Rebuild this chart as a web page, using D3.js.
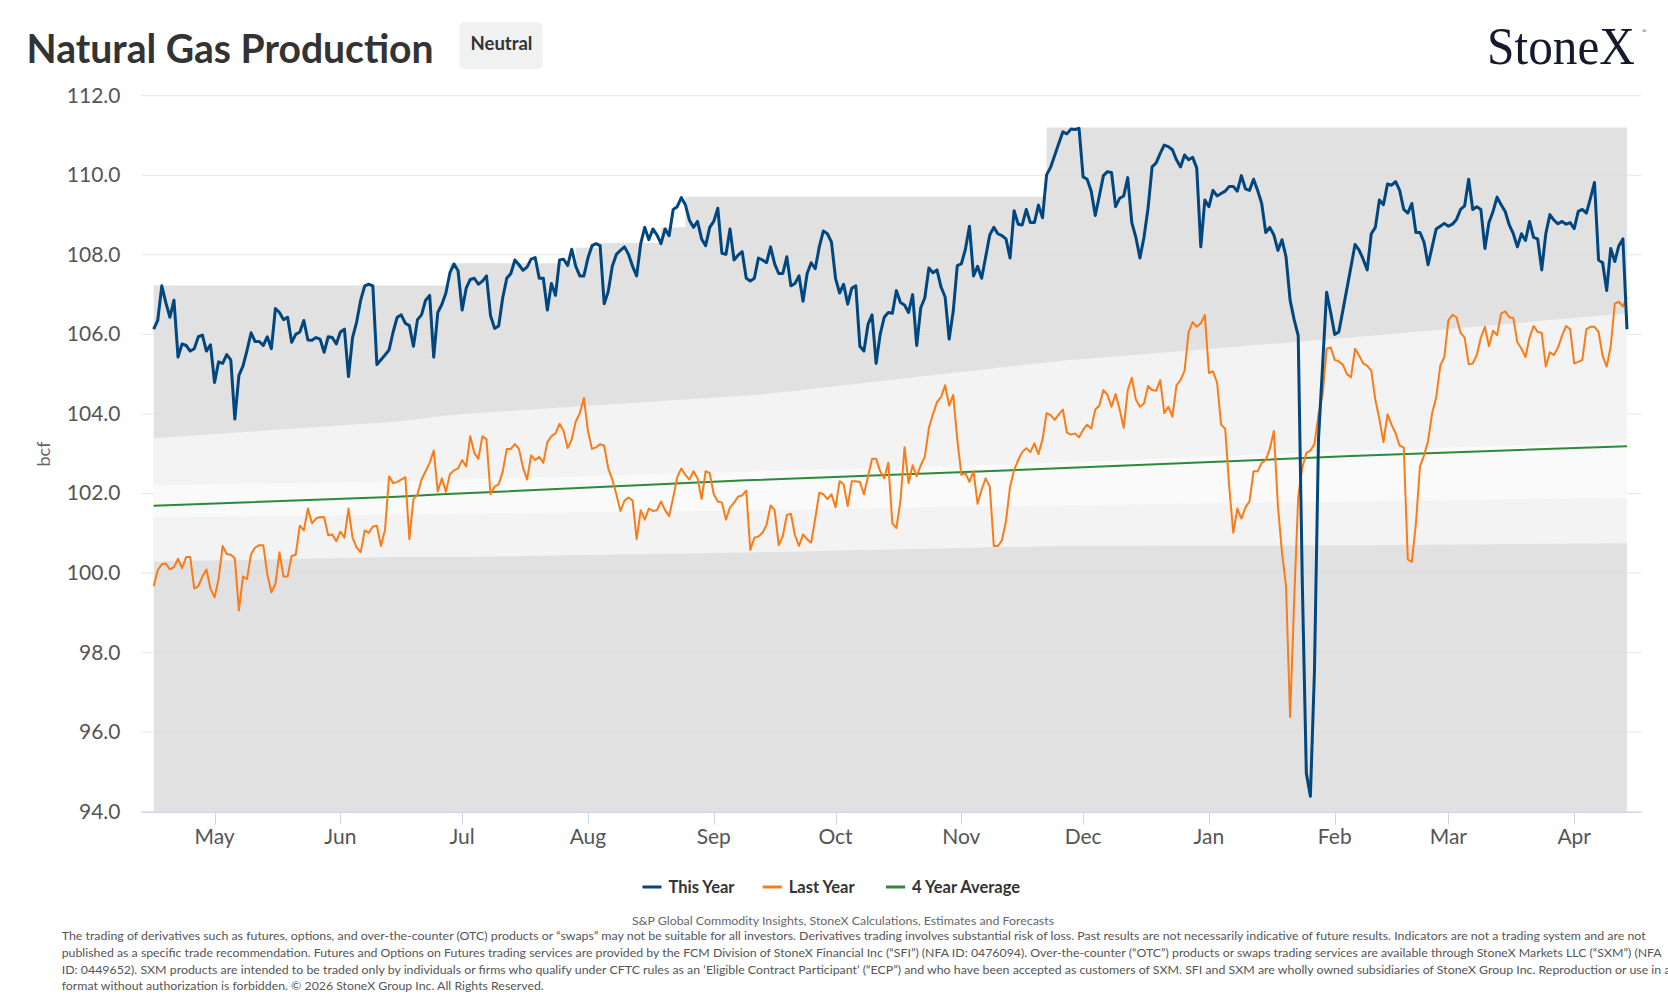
<!DOCTYPE html>
<html>
<head>
<meta charset="utf-8">
<title>Natural Gas Production</title>
<script src="https://cdn.jsdelivr.net/npm/d3@7"></script>
<style>
    body { margin: 0; background: #ffffff; }
    svg { display: block; font-family: Lato, 'Open Sans', sans-serif; }
</style>
</head>
<body>
<svg id="vis_svg"></svg>
<script>
// Global Variables
let scales = {};
let config = {
    'svg' : {},
    'plot' : {}
};

// ---- Data (bcf/d, one value per day starting 2025-04-16) ----
const seriesStart = Date.UTC(2025, 3, 16);

const thisYear = [
    106.13, 106.35, 107.22, 106.80, 106.43, 106.86, 105.43, 105.76, 105.72, 105.58,
    105.64, 105.94, 105.98, 105.58, 105.74, 104.79, 105.31, 105.27, 105.49, 105.36,
    103.87, 104.97, 105.20, 105.60, 106.04, 105.82, 105.82, 105.72, 105.94, 105.64,
    106.65, 106.55, 106.37, 106.43, 105.80, 106.00, 106.06, 106.35, 105.86, 105.85,
    105.92, 105.88, 105.55, 105.94, 105.92, 105.76, 106.06, 106.13, 104.94, 105.92,
    106.31, 106.86, 107.22, 107.26, 107.22, 105.24, 105.36, 105.48, 105.61, 106.06,
    106.43, 106.49, 106.28, 106.22, 105.70, 106.37, 106.49, 106.86, 106.98, 105.43,
    106.55, 106.75, 107.04, 107.55, 107.77, 107.60, 106.61, 107.16, 107.38, 107.41,
    107.26, 107.34, 107.47, 106.47, 106.15, 106.21, 106.92, 107.41, 107.53, 107.87,
    107.75, 107.61, 107.69, 107.89, 107.93, 107.41, 107.41, 106.61, 107.28, 106.98,
    107.87, 107.89, 107.73, 108.14, 107.71, 107.47, 107.47, 107.92, 108.23, 108.28,
    108.23, 106.77, 107.08, 107.71, 108.01, 108.11, 108.20, 108.01, 107.71, 107.47,
    108.28, 108.69, 108.38, 108.65, 108.50, 108.28, 108.65, 108.48, 109.14, 109.21,
    109.44, 109.26, 108.87, 108.69, 108.84, 108.40, 108.23, 108.69, 108.84, 109.17,
    108.04, 108.01, 108.65, 107.87, 107.99, 108.08, 107.41, 107.34, 107.41, 107.92,
    107.87, 107.80, 108.20, 107.77, 107.53, 107.53, 107.95, 107.22, 107.28, 107.47,
    106.83, 107.53, 107.80, 107.65, 108.20, 108.60, 108.53, 108.32, 107.41, 107.04,
    107.26, 106.76, 107.16, 107.22, 105.70, 105.58, 106.25, 106.49, 105.27, 106.00,
    106.43, 106.55, 106.53, 107.10, 106.80, 106.74, 106.55, 107.00, 105.72, 106.67,
    106.92, 107.67, 107.55, 107.62, 107.19, 106.94, 105.88, 106.58, 107.73, 107.77,
    108.14, 108.72, 107.47, 107.71, 107.41, 107.95, 108.50, 108.69, 108.53, 108.48,
    108.40, 107.92, 109.11, 108.77, 108.75, 109.14, 108.81, 108.81, 109.25, 108.93,
    110.01, 110.20, 110.50, 110.80, 111.09, 111.04, 111.16, 111.15, 111.18, 109.96,
    109.90, 109.60, 108.99, 109.48, 109.99, 110.09, 110.07, 109.21, 109.42, 109.48,
    109.94, 108.81, 108.44, 107.92, 108.44, 109.17, 110.21, 110.31, 110.55, 110.76,
    110.72, 110.64, 110.39, 110.21, 110.51, 110.39, 110.45, 110.18, 108.20, 109.38,
    109.21, 109.62, 109.48, 109.54, 109.60, 109.72, 109.72, 109.60, 109.99, 109.66,
    109.62, 109.90, 109.62, 109.29, 108.56, 108.69, 108.50, 108.11, 108.38, 107.95,
    106.86, 106.37, 105.97, 99.80, 94.97, 94.39, 97.53, 103.38, 105.20, 107.06,
    106.55, 106.00, 106.06, 106.60, 107.15, 107.70, 108.26, 108.12, 107.89, 107.62,
    108.53, 108.69, 109.38, 109.26, 109.78, 109.75, 109.84, 109.62, 109.14, 109.05,
    109.29, 108.56, 108.56, 108.32, 107.75, 108.20, 108.65, 108.72, 108.79, 108.72,
    108.77, 108.89, 109.14, 109.23, 109.90, 109.14, 109.21, 109.14, 108.16, 108.81,
    109.09, 109.45, 109.26, 109.09, 108.75, 108.53, 108.20, 108.53, 108.36, 108.84,
    108.44, 108.40, 107.62, 108.53, 109.01, 108.87, 108.78, 108.84, 108.77, 108.81,
    108.66, 109.09, 109.14, 109.05, 109.42, 109.82, 107.87, 107.80, 107.10, 108.16,
    107.83, 108.23, 108.40, 106.13
];

const lastYear = [
    99.67, 100.07, 100.22, 100.24, 100.09, 100.15, 100.36, 100.12, 100.40, 100.40,
    99.61, 99.67, 99.91, 100.09, 99.61, 99.39, 99.85, 100.68, 100.48, 100.46,
    100.37, 99.06, 99.91, 99.85, 100.48, 100.64, 100.70, 100.70, 99.97, 99.51,
    99.73, 100.52, 99.91, 99.91, 100.43, 100.46, 101.19, 101.07, 101.62, 101.25,
    101.37, 101.41, 101.40, 100.95, 100.97, 100.80, 101.04, 100.89, 101.62, 100.89,
    100.64, 100.52, 101.07, 101.01, 101.17, 101.19, 100.68, 101.09, 102.43, 102.26,
    102.29, 102.35, 102.41, 100.85, 101.86, 101.98, 102.35, 102.56, 102.77, 103.08,
    102.05, 102.38, 102.04, 102.49, 102.58, 102.63, 102.84, 102.68, 103.44, 103.02,
    102.87, 103.44, 103.36, 101.98, 102.17, 102.23, 102.55, 103.12, 103.12, 103.24,
    103.12, 102.65, 102.35, 102.96, 102.84, 102.92, 102.77, 103.29, 103.44, 103.51,
    103.75, 103.57, 103.14, 103.36, 103.81, 104.02, 104.40, 103.57, 103.12, 103.16,
    103.24, 103.20, 102.63, 102.35, 101.98, 101.56, 101.82, 101.90, 101.82, 100.85,
    101.58, 101.34, 101.62, 101.56, 101.58, 101.80, 101.58, 101.43, 101.90, 102.41,
    102.63, 102.47, 102.35, 102.56, 102.38, 101.86, 102.56, 102.51, 101.98, 101.80,
    101.77, 101.34, 101.65, 101.77, 101.92, 101.95, 102.07, 100.58, 100.89, 100.92,
    101.01, 101.21, 101.70, 101.58, 100.70, 100.92, 101.46, 101.49, 100.95, 100.68,
    100.97, 100.85, 100.76, 101.37, 102.02, 101.98, 101.86, 101.98, 101.65, 102.31,
    102.23, 101.68, 102.31, 102.31, 102.29, 101.98, 102.43, 102.87, 102.87, 102.56,
    102.38, 102.77, 101.25, 101.13, 101.82, 103.16, 102.26, 102.71, 102.43, 102.71,
    102.92, 103.65, 103.99, 104.30, 104.42, 104.72, 104.21, 104.48, 103.36, 102.47,
    102.51, 102.29, 102.56, 101.74, 102.10, 102.38, 102.17, 100.68, 100.68, 100.82,
    101.31, 102.17, 102.59, 102.84, 103.04, 103.14, 103.04, 103.26, 102.99, 103.36,
    104.02, 103.97, 103.85, 103.99, 104.11, 103.53, 103.48, 103.51, 103.41, 103.60,
    103.73, 103.63, 104.11, 104.21, 104.60, 104.48, 104.18, 104.50, 104.11, 103.65,
    104.60, 104.91, 104.36, 104.18, 104.26, 104.70, 104.60, 104.58, 104.85, 104.02,
    104.18, 103.93, 104.72, 104.85, 105.09, 106.06, 106.31, 106.19, 106.28, 106.49,
    105.03, 105.07, 104.79, 103.73, 103.63, 102.17, 101.01, 101.62, 101.37, 101.65,
    101.80, 102.56, 102.56, 102.77, 102.84, 103.12, 103.57, 101.68, 100.52, 99.67,
    96.38, 99.30, 101.92, 102.65, 103.02, 103.08, 103.24, 103.99, 104.48, 105.64,
    105.67, 105.36, 105.32, 105.24, 105.00, 104.92, 105.64, 105.47, 105.27, 105.21,
    105.09, 104.36, 103.87, 103.29, 103.99, 103.73, 103.51, 103.20, 103.16, 100.34,
    100.28, 101.25, 102.68, 102.96, 103.32, 104.02, 104.42, 105.21, 105.43, 106.35,
    106.49, 106.43, 106.04, 105.92, 105.25, 105.27, 105.48, 105.92, 106.19, 105.70,
    106.09, 105.98, 106.53, 106.58, 106.43, 106.41, 105.80, 105.64, 105.43, 105.92,
    106.21, 106.06, 106.04, 105.19, 105.55, 105.48, 105.67, 105.97, 106.21, 106.13,
    105.27, 105.31, 105.36, 106.13, 106.19, 106.19, 106.06, 105.46, 105.19, 105.70,
    106.77, 106.82, 106.70, 106.94
];

// 4 year average, read at a few days (day index from seriesStart)
const avgDays = [0, 60, 71, 146, 220, 295, 363];
const avg4yr  = [101.69, 101.92, 101.98, 102.33, 102.62, 102.94, 103.19];

// historical range (step edges)
const rangeDays = [0, 73, 104, 110, 125, 131, 220, 363];
const rangeMax  = [107.23, 107.79, 108.18, 108.30, 108.69, 109.46, 111.20, 111.20];
const rangeMin  = [94.0, 94.0, 94.0, 94.0, 94.0, 94.0, 94.0, 94.0];

// outer and inner spread bands
const bandDays  = [0, 60, 75, 149, 223, 297, 363];
const outerHigh = [103.39, 103.81, 103.99, 104.48, 105.33, 105.94, 106.53];
const outerLow  = [100.29, 100.40, 100.40, 100.52, 100.68, 100.70, 100.75];
const innerHigh = [102.21, 102.30, 102.35, 102.56, 102.77, 103.08, 103.30];
const innerLow  = [101.40, 101.46, 101.49, 101.58, 101.70, 101.80, 101.89];

const yTicks = [94, 96, 98, 100, 102, 104, 106, 108, 110, 112];

const legendItems = [
    {'name': 'This Year', 'color': '#00467f'},
    {'name': 'Last Year', 'color': '#fb7c16'},
    {'name': '4 Year Average', 'color': '#2b8a3a'}
];

const sourceText = 'S&P Global Commodity Insights, StoneX Calculations, Estimates and Forecasts';
const disclaimer = [
    'The trading of derivatives such as futures, options, and over-the-counter (OTC) products or \u201cswaps\u201d may not be suitable for all investors. Derivatives trading involves substantial risk of loss. Past results are not necessarily indicative of future results. Indicators are not a trading system and are not',
    'published as a specific trade recommendation. Futures and Options on Futures trading services are provided by the FCM Division of StoneX Financial Inc (\u201cSFI\u201d) (NFA ID: 0476094). Over-the-counter (\u201cOTC\u201d) products or swaps trading services are available through StoneX Markets LLC (\u201cSXM\u201d) (NFA',
    'ID: 0449652). SXM products are intended to be traded only by individuals or firms who qualify under CFTC rules as an \u2018Eligible Contract Participant\u2019 (\u201cECP\u201d) and who have been accepted as customers of SXM. SFI and SXM are wholly owned subsidiaries of StoneX Group Inc. Reproduction or use in any',
    'format without authorization is forbidden. \u00a9 2026 StoneX Group Inc. All Rights Reserved.'
];

/**
 * Set up the svg and scales
 */
function visSetup() {
    config.svg.width = 1668;
    config.svg.height = 1001;

    config.plot.left = 141.5;
    config.plot.right = 1641.5;
    config.plot.top = 95.7;
    config.plot.bottom = 811.7;

    svg = d3.select('#vis_svg')
        .attr('width', config.svg.width)
        .attr('height', config.svg.height);

    scales.x = d3.scaleUtc()
        .domain([Date.UTC(2025, 3, 13), Date.UTC(2026, 3, 18)])
        .range([config.plot.left, 1643.2]);

    scales.y = d3.scaleLinear()
        .domain([94, 112])
        .range([config.plot.bottom, config.plot.top]);
}

function dayDate(i) {
    return d3.utcDay.offset(new Date(seriesStart), i);
}

/**
 * Draw everything
 */
function visDraw() {
    let x = scales.x, y = scales.y;

    // Header
    svg.append('text')
        .attr('x', 26.6).attr('y', 62.5)
        .attr('textLength', 407).attr('lengthAdjust', 'spacingAndGlyphs')
        .style('font-size', '40px').style('font-weight', 700).style('fill', '#333333')
        .text('Natural Gas Production');

    svg.append('rect')
        .attr('x', 459.6).attr('y', 22.3).attr('width', 83).attr('height', 46.8)
        .attr('rx', 5).style('fill', '#f0f1f1');
    svg.append('text')
        .attr('x', 501.5).attr('y', 50)
        .attr('text-anchor', 'middle')
        .style('font-size', '18.5px').style('font-weight', 700).style('fill', '#333333')
        .text('Neutral');

    svg.append('text')
        .attr('x', 1487).attr('y', 63.5)
        .attr('textLength', 148).attr('lengthAdjust', 'spacingAndGlyphs')
        .style('font-family', "'Liberation Serif', 'DejaVu Serif', serif")
        .style('font-size', '52px').style('fill', '#141a2b')
        .text('StoneX');
    svg.append('text')
        .attr('x', 1642).attr('y', 33)
        .style('font-family', "'Liberation Serif', serif")
        .style('font-size', '6px').style('fill', '#141a2b')
        .text('\u00ae');

    // gridlines
    let grid = svg.append('g').attr('id', 'grid');
    grid.selectAll('line')
        .data(yTicks.filter(d => d > 94))
        .join('line')
        .attr('x1', config.plot.left).attr('x2', config.plot.right)
        .attr('y1', d => y(d)).attr('y2', d => y(d))
        .style('stroke', '#e6e6e6').style('stroke-width', 1);

    // bands
    let bands = svg.append('g').attr('id', 'bands');

    let rangeArea = d3.area()
        .x((d, i) => x(dayDate(rangeDays[i])))
        .y0((d, i) => y(rangeMin[i]))
        .y1(d => y(d))
        .curve(d3.curveStepAfter);
    bands.append('path')
        .datum(rangeMax)
        .attr('d', rangeArea)
        .style('fill', '#d9dada').style('fill-opacity', 0.8);

    let outerArea = d3.area()
        .x((d, i) => x(dayDate(bandDays[i])))
        .y0((d, i) => y(outerLow[i]))
        .y1(d => y(d));
    bands.append('path')
        .datum(outerHigh)
        .attr('d', outerArea)
        .style('fill', '#ffffff').style('fill-opacity', 0.6);

    let innerArea = d3.area()
        .x((d, i) => x(dayDate(bandDays[i])))
        .y0((d, i) => y(innerLow[i]))
        .y1(d => y(d));
    bands.append('path')
        .datum(innerHigh)
        .attr('d', innerArea)
        .style('fill', '#ffffff').style('fill-opacity', 0.55);

    // y labels
    svg.append('g').attr('id', 'y_labels')
        .selectAll('text')
        .data(yTicks)
        .join('text')
        .attr('x', 120.5)
        .attr('y', d => y(d) + 7)
        .attr('text-anchor', 'end')
        .style('font-size', '21px').style('fill', '#555555')
        .text(d => d.toFixed(1));

    svg.append('text')
        .attr('transform', translate(49.5, 454) + ' rotate(-90)')
        .attr('text-anchor', 'middle')
        .style('font-size', '18px').style('fill', '#666666')
        .text('bcf');

    // x axis
    let months = d3.utcMonth.range(Date.UTC(2025, 4, 1), Date.UTC(2026, 3, 2));
    let xAxis = svg.append('g').attr('id', 'x_axis');
    xAxis.append('line')
        .attr('x1', config.plot.left).attr('x2', config.plot.right)
        .attr('y1', config.plot.bottom + 0.5).attr('y2', config.plot.bottom + 0.5)
        .style('stroke', '#ccd6eb').style('stroke-width', 1.5);
    xAxis.selectAll('.tick')
        .data(months)
        .join('line')
        .attr('class', 'tick')
        .attr('x1', d => Math.round(x(d)) + 0.5).attr('x2', d => Math.round(x(d)) + 0.5)
        .attr('y1', config.plot.bottom).attr('y2', config.plot.bottom + 13)
        .style('stroke', '#ccd6eb').style('stroke-width', 1);
    xAxis.selectAll('.label')
        .data(months)
        .join('text')
        .attr('class', 'label')
        .attr('x', d => x(d))
        .attr('y', 844)
        .attr('text-anchor', 'middle')
        .style('font-size', '21px').style('fill', '#555555')
        .text(d3.utcFormat('%b'));

    // series
    let lines = svg.append('g').attr('id', 'series');

    let avgLine = d3.line()
        .x((d, i) => x(dayDate(avgDays[i])))
        .y(d => y(d));
    lines.append('path')
        .datum(avg4yr)
        .attr('d', avgLine)
        .style('fill', 'none').style('stroke', legendItems[2].color).style('stroke-width', 2);

    let dailyLine = d3.line()
        .x((d, i) => x(dayDate(i)))
        .y(d => y(d));
    lines.append('path')
        .datum(lastYear)
        .attr('d', dailyLine)
        .style('fill', 'none').style('stroke', legendItems[1].color)
        .style('stroke-width', 2).style('stroke-linejoin', 'round');
    lines.append('path')
        .datum(thisYear)
        .attr('d', dailyLine)
        .style('fill', 'none').style('stroke', legendItems[0].color)
        .style('stroke-width', 3).style('stroke-linejoin', 'round');

    // legend
    let legendX = [642.5, 762.7, 886];
    let legend = svg.append('g').attr('id', 'legend');
    legendItems.forEach(function(item, i) {
        let g = legend.append('g').attr('transform', translate(legendX[i], 887));
        g.append('line')
            .attr('x1', 0).attr('x2', 19).attr('y1', 0).attr('y2', 0)
            .style('stroke', item.color).style('stroke-width', 3);
        g.append('text')
            .attr('x', 26).attr('y', 6)
            .style('font-size', '16.5px').style('font-weight', 700).style('fill', '#333333')
            .text(item.name);
    });

    // footer
    svg.append('text')
        .attr('x', 843).attr('y', 924.5)
        .attr('text-anchor', 'middle')
        .attr('textLength', 422).attr('lengthAdjust', 'spacingAndGlyphs')
        .style('font-size', '12px').style('fill', '#666666')
        .text(sourceText);

    let lineWidths = [1584, 1600, 1622, 482];
    let lineY = [939.5, 956.5, 973.5, 989.5];
    svg.append('g').attr('id', 'disclaimer')
        .selectAll('text')
        .data(disclaimer)
        .join('text')
        .attr('x', 61.7)
        .attr('y', (d, i) => lineY[i])
        .attr('textLength', (d, i) => lineWidths[i])
        .attr('lengthAdjust', 'spacingAndGlyphs')
        .style('font-size', '12px').style('fill', '#555555')
        .text(d => d);
}

// Helper functions
function translate(x, y) {
    return 'translate(' + x + ',' + y + ')';
}

visSetup();
visDraw();
</script>
</body>
</html>
